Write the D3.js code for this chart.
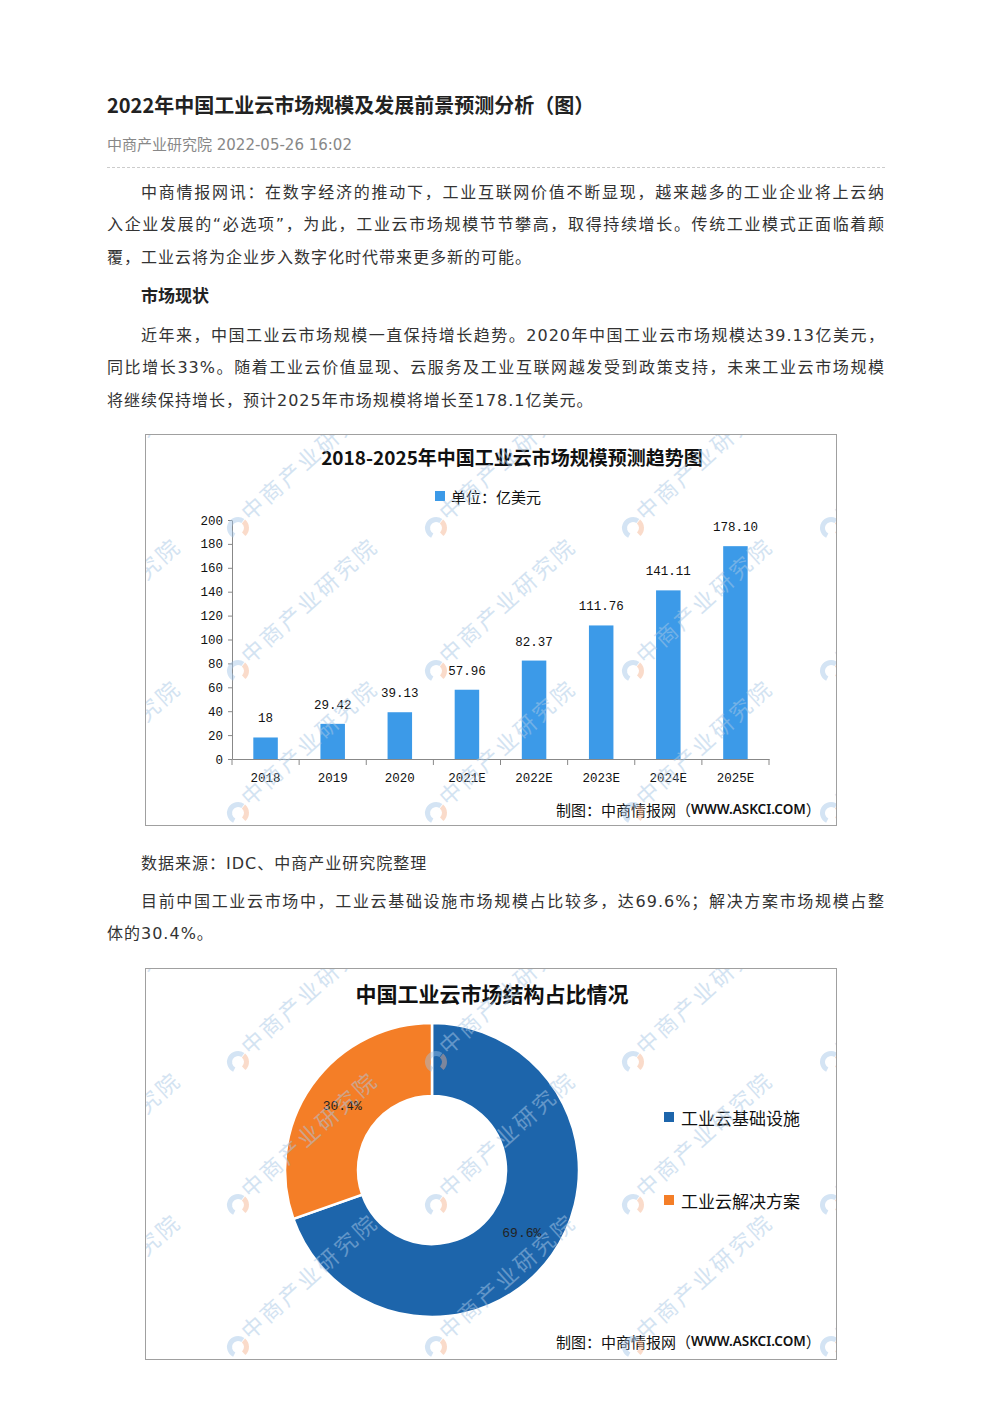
<!DOCTYPE html>
<html lang="zh">
<head>
<meta charset="UTF-8">
<title>2022年中国工业云市场规模及发展前景预测分析（图）</title>
<script src="https://d3js.org/d3.v7.min.js"></script>
<style>
  body { margin: 0; background: #fff; font-family: "DejaVu Sans", "Noto Sans CJK SC", sans-serif; color: #333; }
  .page { position: relative; width: 992px; height: 1403px; }
  .blk { position: absolute; left: 107px; width: 778px; margin: 0; }
  h1.blk { top: 90px; font-family: "Noto Sans CJK SC", sans-serif; font-size: 20px; font-weight: 700; color: #222; line-height: 30px; }
  .meta { top: 134px; font-size: 15px; color: #888; line-height: 22px; }
  .rule { top: 167px; height: 0; border-top: 1px dashed #ccc; }
  .p { font-size: 16px; letter-spacing: 1px; line-height: 32.5px; color: #333; }
  .p span { display: block; white-space: nowrap; text-align: justify; text-align-last: justify; }
  .p span.last { text-align-last: left; }
  .p span.ind { padding-left: 34px; }
  .p b { display: block; padding-left: 34px; color: #222; letter-spacing: 0; font-size: 17px; }
  .chart { position: absolute; left: 145px; width: 690px; height: 390px; border: 1px solid #a0a0a0; }
  .chart svg { display: block; }
</style>
</head>
<body>
<div class="page">
  <h1 class="blk">2022年中国工业云市场规模及发展前景预测分析（图）</h1>
  <div class="blk meta">中商产业研究院 2022-05-26 16:02</div>
  <div class="blk rule"></div>

  <div class="blk p" style="top:176.5px">
    <span class="ind">中商情报网讯：在数字经济的推动下，工业互联网价值不断显现，越来越多的工业企业将上云纳</span>
    <span>入企业发展的“必选项”，为此，工业云市场规模节节攀高，取得持续增长。传统工业模式正面临着颠</span>
    <span class="last">覆，工业云将为企业步入数字化时代带来更多新的可能。</span>
  </div>
  <div class="blk p" style="top:280px"><b>市场现状</b></div>
  <div class="blk p" style="top:319.5px">
    <span class="ind">近年来，中国工业云市场规模一直保持增长趋势。2020年中国工业云市场规模达39.13亿美元，</span>
    <span>同比增长33%。随着工业云价值显现、云服务及工业互联网越发受到政策支持，未来工业云市场规模</span>
    <span class="last">将继续保持增长，预计2025年市场规模将增长至178.1亿美元。</span>
  </div>

  <div class="chart" id="chart1" style="top:434px"></div>

  <div class="blk p" style="top:847.5px">
    <span class="ind last">数据来源：IDC、中商产业研究院整理</span>
  </div>
  <div class="blk p" style="top:885.5px">
    <span class="ind">目前中国工业云市场中，工业云基础设施市场规模占比较多，达69.6%；解决方案市场规模占整</span>
    <span class="last">体的30.4%。</span>
  </div>

  <div class="chart" id="chart2" style="top:968px"></div>
</div>

<script>
  // 图1：2018-2025年市场规模（亿美元）
  const years = ["2018", "2019", "2020", "2021E", "2022E", "2023E", "2024E", "2025E"];
  const marketSize = [18, 29.42, 39.13, 57.96, 82.37, 111.76, 141.11, 178.1];
  const sizeLabels = ["18", "29.42", "39.13", "57.96", "82.37", "111.76", "141.11", "178.10"];
  const yTicks = [0, 20, 40, 60, 80, 100, 120, 140, 160, 180, 200];

  // 图2：市场结构占比
  const segments = ["工业云基础设施", "工业云解决方案"];
  const shares = [69.6, 30.4];
  const shareLabels = ["69.6%", "30.4%"];

  const W = 690, H = 390;
  const numFont = "'Liberation Mono', 'DejaVu Sans Mono', monospace";
  const cjkFont = "'Noto Sans CJK SC', sans-serif";

  function footer(svg, y) {
    const t = svg.append("text").attr("x", 410).attr("y", y)
      .attr("dominant-baseline", "central").attr("font-family", cjkFont)
      .attr("font-size", 15).attr("fill", "#111");
    t.append("tspan").text("制图：中商情报网（");
    t.append("tspan").text("WWW.ASKCI.COM").attr("font-size", 13.5).attr("font-weight", 600)
      .attr("font-family", "'Noto Sans', sans-serif");
    t.append("tspan").text("）");
  }

  function watermarks(svg) {
    const g = svg.append("g").attr("pointer-events", "none");
    const gx = [-105, 92, 290, 487, 685], gy = [93, 236, 378];
    const logoArc = d3.arc().innerRadius(6).outerRadius(11);
    gy.forEach(y => gx.forEach(x => {
      g.append("path").attr("transform", `translate(${x},${y})`)
        .attr("d", logoArc({ startAngle: 3.6, endAngle: 6.9 }))
        .attr("fill", "#9fc3e6").attr("opacity", 0.45);
      g.append("path").attr("transform", `translate(${x},${y})`)
        .attr("d", logoArc({ startAngle: 0.7, endAngle: 2.4 }))
        .attr("fill", "#f3b08a").attr("opacity", 0.45);
      g.append("text").attr("transform", `translate(${x + 12},${y - 6}) rotate(-42)`)
        .attr("font-family", cjkFont).attr("font-size", 22).attr("letter-spacing", 3)
        .attr("fill", "#a9c8e6").attr("opacity", 0.5).text("中商产业研究院");
    }));
  }

  // ---------- 柱状图 ----------
  const svg1 = d3.select("#chart1").append("svg").attr("width", W).attr("height", H);

  svg1.append("text").attr("x", 366).attr("y", 21).attr("text-anchor", "middle")
    .attr("dominant-baseline", "central").attr("font-family", cjkFont)
    .attr("font-size", 19).attr("font-weight", 700).attr("fill", "#111")
    .text("2018-2025年中国工业云市场规模预测趋势图");

  svg1.append("rect").attr("x", 289).attr("y", 56).attr("width", 10).attr("height", 10).attr("fill", "#3c9ae8");
  svg1.append("text").attr("x", 305).attr("y", 61).attr("dominant-baseline", "central")
    .attr("font-family", cjkFont).attr("font-size", 15).attr("fill", "#111").text("单位：亿美元");

  const x = d3.scaleBand().domain(years).range([86, 623]).paddingInner(0.635).paddingOuter(0.3175);
  const xb = d3.scaleBand().domain(years).range([86, 623]);
  const y = d3.scaleLinear().domain([0, 200]).range([324, 85]);

  svg1.selectAll("rect.bar").data(marketSize).join("rect").attr("class", "bar")
    .attr("x", (d, i) => x(years[i])).attr("width", x.bandwidth())
    .attr("y", d => y(d)).attr("height", d => y(0) - y(d)).attr("fill", "#3c9ae8");

  svg1.selectAll("text.val").data(marketSize).join("text").attr("class", "val")
    .attr("x", (d, i) => x(years[i]) + x.bandwidth() / 2).attr("y", d => y(d) - 18)
    .attr("text-anchor", "middle").attr("dominant-baseline", "central")
    .attr("font-family", numFont).attr("font-size", 12.5).attr("fill", "#111")
    .text((d, i) => sizeLabels[i]);

  const yAxis = svg1.append("g").attr("transform", "translate(86,0)")
    .call(d3.axisLeft(y).tickValues(yTicks).tickSize(4).tickSizeOuter(0).tickPadding(5));
  const xAxis = svg1.append("g").attr("transform", "translate(0,324)")
    .call(d3.axisBottom(x).tickSize(0).tickPadding(14));
  xAxis.selectAll(".tick line").remove();
  svg1.append("g").selectAll("line").data(years.map(c => xb(c)).concat([xb.range()[1]])).join("line")
    .attr("x1", d => d).attr("x2", d => d).attr("y1", 324).attr("y2", 330).attr("stroke", "#888");
  [yAxis, xAxis].forEach(a => {
    a.select(".domain").attr("stroke", "#888");
    a.selectAll(".tick line").attr("stroke", "#888");
    a.selectAll("text").attr("font-family", numFont).attr("font-size", 12.5).attr("fill", "#111");
  });

  footer(svg1, 374);
  watermarks(svg1);

  // ---------- 环形图 ----------
  const svg2 = d3.select("#chart2").append("svg").attr("width", W).attr("height", H);

  svg2.append("text").attr("x", 346).attr("y", 24).attr("text-anchor", "middle")
    .attr("dominant-baseline", "central").attr("font-family", cjkFont)
    .attr("font-size", 21).attr("font-weight", 700).attr("fill", "#111")
    .text("中国工业云市场结构占比情况");

  const colors = d3.scaleOrdinal().domain(segments).range(["#1d65ab", "#f47e27"]);
  const pie = d3.pie().sort(null).value(d => d);
  const arc = d3.arc().innerRadius(74).outerRadius(147);
  const mid = d3.arc().innerRadius(110).outerRadius(110);
  const donut = svg2.append("g").attr("transform", "translate(286,201)");
  const arcs = pie(shares);

  donut.selectAll("path").data(arcs).join("path")
    .attr("d", arc).attr("fill", (d, i) => colors(segments[i]))
    .attr("stroke", "#fff").attr("stroke-width", 2.5);
  donut.selectAll("text").data(arcs).join("text")
    .attr("transform", d => `translate(${mid.centroid(d)})`)
    .attr("text-anchor", "middle").attr("dominant-baseline", "central")
    .attr("font-family", numFont).attr("font-size", 13).attr("fill", "#222")
    .text((d, i) => shareLabels[i]);

  const legend = svg2.append("g");
  segments.forEach((s, i) => {
    const ly = 148 + i * 83;
    legend.append("rect").attr("x", 518).attr("y", ly - 5).attr("width", 10).attr("height", 10).attr("fill", colors(s));
    legend.append("text").attr("x", 535).attr("y", ly).attr("dominant-baseline", "central")
      .attr("font-family", cjkFont).attr("font-size", 17).attr("fill", "#111").text(s);
  });

  footer(svg2, 372);
  watermarks(svg2);
</script>
</body>
</html>
